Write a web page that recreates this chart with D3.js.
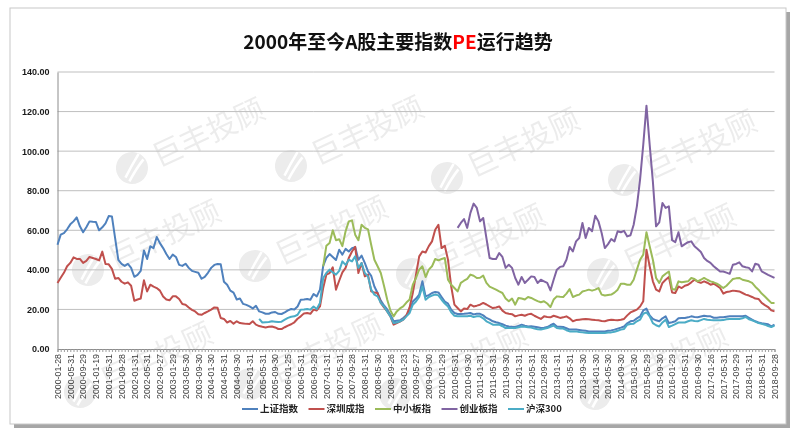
<!DOCTYPE html>
<html>
<head>
<meta charset="utf-8">
<script src="https://cdn.jsdelivr.net/npm/d3@7/dist/d3.min.js"></script>
<style>
  body { margin: 0; background: #fff; }
</style>
</head>
<body>
<div id="chart"></div>
<script>
// tick labels (one every 4 months)
var tickLabels = [
    "2000-01-28", "2000-05-31", "2000-09-29", "2001-01-19", "2001-05-31", "2001-09-28",
    "2002-01-31", "2002-05-31", "2002-09-27", "2003-01-29", "2003-05-30", "2003-09-30",
    "2004-01-30", "2004-05-31", "2004-09-30", "2005-01-31", "2005-05-31", "2005-09-30",
    "2006-01-25", "2006-05-31", "2006-09-29", "2007-01-31", "2007-05-31", "2007-09-28",
    "2008-01-31", "2008-05-30", "2008-09-26", "2009-01-23", "2009-05-27", "2009-09-30",
    "2010-01-29", "2010-05-31", "2010-09-30", "2011-01-31", "2011-05-31", "2011-09-30",
    "2012-01-31", "2012-05-31", "2012-09-28", "2013-01-31", "2013-05-31", "2013-09-30",
    "2014-01-30", "2014-05-30", "2014-09-30", "2015-01-30", "2015-05-29", "2015-09-30",
    "2016-01-29", "2016-05-31", "2016-09-30", "2017-01-26", "2017-05-31", "2017-09-29",
    "2018-01-31", "2018-05-31", "2018-09-28"
];

var seriesNames = ["上证指数", "深圳成指", "中小板指", "创业板指", "沪深300"];
var seriesColors = ["#4F81BD", "#C0504D", "#9BBB59", "#8064A2", "#4BACC6"];
var yTicks = [0, 20, 40, 60, 80, 100, 120, 140];

// monthly PE, 2000-01 .. 2018-09 (one row per year)
var shangzheng = [
    52.7, 57.8, 58.6, 60.5, 63, 64.5, 66.5, 62, 59, 61.5, 64.5, 64.3,
    64.2, 60, 61.5, 63.5, 67.2, 67, 56, 45, 43, 42, 43, 41,
    36.5, 37.5, 39.5, 49.8, 45.5, 51.9, 51, 56.6, 53.5, 51, 48, 45.5,
    47.7, 46.5, 42.5, 42, 43.1, 41, 39.5, 39, 38.5, 35.5, 36.5, 38.5,
    41, 42.5, 43, 42.8, 34, 32.5, 29.5, 28.5, 25, 25.5, 22.8, 22.3,
    21.5, 20.5, 21.8, 19, 18.5, 17.8, 17.8, 18.5, 18.7, 17.8, 17.7, 18.5,
    19.5, 20.2, 20, 21.5, 24.9, 25, 25.3, 24.9, 27.8, 26.6, 30, 42,
    46, 48, 46.5, 45, 50.2, 47.7, 50.6, 49.3, 51, 51.5, 45.1, 47.2,
    43.5, 39.2, 37, 31.6, 28.3, 24.5, 22, 20, 17.3, 14, 14.3, 14.5,
    15.7, 17, 19, 24, 25.5, 27.5, 34.2, 26.6, 27.2, 28.3, 28.8, 28.6,
    26.3, 24, 22.9, 19.9, 18.2, 17.7, 17.7, 17.8, 18, 18.2, 17.5, 17.8,
    17.8, 17, 15.7, 15, 14, 13.5, 13.1, 12.5, 11.8, 11.4, 11.2, 11.1,
    11.7, 12.3, 11.8, 11.4, 11.5, 11.3, 11, 10.6, 10.8, 11.1, 12, 12.8,
    11.4, 11.3, 11.1, 10.5, 9.8, 9.8, 9.8, 9.6, 9.4, 9.2, 8.9, 8.9,
    8.9, 8.9, 8.9, 8.9, 9.2, 9.4, 9.8, 10.3, 10.8, 11.4, 13, 14,
    14.3, 15.5, 16.5, 19.5, 20.4, 17, 15.2, 14.5, 14, 15.5, 16.5, 13.1,
    13.5, 14, 15.5, 15.7, 15.7, 16, 16.5, 16.2, 16, 16.4, 16.8, 16.5,
    16.5, 15.8, 15.8, 16, 16, 16.3, 16.5, 16.5, 16.5, 16.5, 16.5, 16.8,
    15.8, 14.8, 14, 13.4, 13, 12.8, 12.5, 11.4, 12.3
];

var shenzhen = [
    33.4, 36, 38.5, 41.8, 43.5, 46.3, 45.5, 45.5, 43.5, 44.5, 46.5, 46,
    45.5, 44.8, 49.2, 43, 42.8, 40.5, 35.5, 35.9, 34, 33, 33.7, 32,
    24.4, 25, 25.5, 34.7, 29.1, 32.5, 31.5, 30.8, 29.5, 26.5, 25, 24.6,
    26.6, 26.6, 25.3, 22.7, 22.4, 21, 19.8, 19, 17.6, 17.3, 18.2, 19,
    19.9, 21, 20.8, 15.7, 15.2, 13.4, 14.2, 12.8, 14, 13.1, 12.9, 12.7,
    12.6, 14, 12.3, 11.6, 11.2, 10.9, 11.2, 11.4, 10.9, 10.1, 10.1, 11,
    11.8, 12.5, 13.5, 15.3, 16.5, 18, 18.2, 17.8, 19.9, 19.5, 21.5, 30.8,
    37.6, 38.4, 41.3, 30, 34.5, 38.7, 41, 46, 49.3, 51.6, 38.4, 43.5,
    36.7, 37.6, 29.1, 28.5, 28.3, 23.3, 21, 19, 16.5, 12.3, 13.1, 13.8,
    14.8, 17, 21, 28.3, 37.6, 46.8, 49.3, 48.8, 52, 54.4, 60.3, 62.8,
    51, 52.2, 45.1, 31.6, 22.4, 20.7, 19, 20.5, 20.2, 22.4, 21.5, 21.9,
    22.4, 23.3, 22.5, 21.5, 20.7, 21, 21.5, 19.4, 18.2, 17.8, 17.6, 16.5,
    17, 17.3, 16.8, 17.5, 17.8, 16.8, 16, 15.2, 16.5, 16.2, 16, 16.8,
    16.3, 15.7, 16, 16.5, 15.5, 14, 14.6, 14.8, 15, 15.2, 15, 14.8,
    14.6, 14.5, 14.2, 14, 14.5, 14.8, 14.6, 14.5, 14.8, 15.2, 17, 18.5,
    19.2, 19.9, 21.5, 24.1, 50.2, 41.8, 34.2, 30, 29.1, 33.4, 35, 36.4,
    28.6, 28.3, 31.6, 30.8, 32, 32.5, 33.7, 35, 34, 33.4, 34.2, 33.5,
    32.5, 33, 32, 30.8, 28, 28.8, 29.1, 29.5, 29.3, 29.1, 28.3, 27.5,
    27, 26.3, 25.5, 25.3, 23.3, 22.2, 21.2, 19.5, 19
];

var zhongxiao = [
    null, null, null, null, null, null, null, null, null, null, null, null,
    null, null, null, null, null, null, null, null, null, null, null, null,
    null, null, null, null, null, null, null, null, null, null, null, null,
    null, null, null, null, null, null, null, null, null, null, null, null,
    null, null, null, null, null, null, null, null, null, null, null, null,
    null, null, null, null, null, null, null, null, null, null, null, null,
    null, null, null, null, null, null, null, null, null, null, null, 41.8,
    52.2, 53.6, 60, 55, 55.5, 52, 59.5, 64.5, 65, 57.8, 55, 62.8,
    61.2, 60.5, 52.7, 45.1, 41.8, 38.4, 32, 25, 19.5, 16.5, 19, 20.5,
    21.5, 23.5, 25, 32.5, 35.9, 40.1, 41.8, 36.4, 40.1, 41.8, 45.5, 44.8,
    45.5, 46, 35, 32.5, 30.8, 29.1, 33.4, 34.5, 35.4, 37.6, 37, 35.9,
    36, 37.1, 33.4, 31.5, 30.8, 30, 29.1, 28.3, 25.5, 24.1, 25.5, 22.4,
    25.8, 25.5, 25, 26.3, 25.8, 25, 24.2, 23.6, 24.1, 23, 21.2, 25,
    26.6, 26.4, 26.3, 28, 30.3, 26.3, 27, 27.5, 29.1, 29.5, 30, 29.5,
    30, 30.8, 27.5, 27, 27.3, 27.5, 28.5, 30, 33, 33, 32.5, 32.5,
    35, 40.1, 45.1, 47.7, 59, 51.9, 45.1, 35.9, 33.4, 36.7, 38, 39.2,
    30.3, 30, 34.2, 33.7, 34, 34.2, 35.9, 35.4, 34.2, 35, 35.9, 35,
    34.2, 33.7, 33, 32, 30.8, 32, 33.7, 35.4, 35.7, 35.9, 35, 34.6,
    34.2, 33.4, 31.5, 30, 28, 26.5, 24.9, 23.3, 23.3
];

var chuangye = [
    null, null, null, null, null, null, null, null, null, null, null, null,
    null, null, null, null, null, null, null, null, null, null, null, null,
    null, null, null, null, null, null, null, null, null, null, null, null,
    null, null, null, null, null, null, null, null, null, null, null, null,
    null, null, null, null, null, null, null, null, null, null, null, null,
    null, null, null, null, null, null, null, null, null, null, null, null,
    null, null, null, null, null, null, null, null, null, null, null, null,
    null, null, null, null, null, null, null, null, null, null, null, null,
    null, null, null, null, null, null, null, null, null, null, null, null,
    null, null, null, null, null, null, null, null, null, null, null, null,
    null, null, null, null, null, 61.2, 63.7, 65.7, 61.2, 68.8, 73.5, 71.3,
    64.5, 66.2, 56, 46, 45.5, 45.5, 48.5, 46.5, 41, 42.6, 41, 35.9,
    32.5, 36.4, 33.4, 35, 36.7, 36.4, 33.4, 35, 34.2, 33.4, 29.6, 35,
    40.1, 41.5, 41.8, 45.1, 51.6, 49.3, 54.4, 56.1, 63.7, 56.1, 61.2, 59.5,
    67.4, 64.5, 58.6, 51, 53, 55.6, 54.4, 59.5, 59, 59.7, 56.9, 57.5,
    62.8, 72.1, 85.6, 103.3, 123, 103.3, 84.7, 62, 64, 73.8, 71.3, 72.1,
    55, 54, 59, 51.9, 53, 54, 54.4, 51.9, 50.5, 49, 46, 44.5,
    43.5, 41.8, 40.5, 39.2, 39.2, 38.6, 38, 42.6, 43, 43.8, 41.8, 41.3,
    41, 39.2, 43.1, 42.6, 39.2, 38.4, 37.5, 36.7, 35.9
];

var hushen300 = [
    null, null, null, null, null, null, null, null, null, null, null, null,
    null, null, null, null, null, null, null, null, null, null, null, null,
    null, null, null, null, null, null, null, null, null, null, null, null,
    null, null, null, null, null, null, null, null, null, null, null, null,
    null, null, null, null, null, null, null, null, null, null, null, null,
    null, null, null, 15.2, 13.4, 13.5, 13.6, 14, 13.8, 13.6, 13.8, 14.8,
    15.7, 16.3, 16.5, 17.3, 19.9, 20, 20.2, 19.9, 21.5, 20.2, 23.3, 35.9,
    38.4, 40.1, 38.7, 37.6, 39.5, 44.3, 42.5, 45.1, 44.3, 46.8, 41, 43.5,
    38.4, 36.7, 30, 27.5, 26.6, 23.3, 21.5, 19, 16.5, 13.1, 13.4, 14,
    14.8, 16.5, 18.2, 22.4, 24, 26.3, 31.6, 24.9, 26.3, 27, 27.5, 27.1,
    24.9, 23, 21.5, 18.5, 16.8, 16.6, 16.5, 16.5, 16.6, 16.8, 16.2, 16.5,
    16.5, 15.5, 14, 13.2, 12.3, 12.3, 12.3, 11.5, 10.6, 10.6, 10.6, 10.6,
    11, 11.4, 11.2, 11, 10.8, 10.3, 10, 9.8, 10.2, 10.6, 11.2, 11.8,
    10.6, 10.4, 10.3, 9.5, 8.9, 8.9, 8.9, 8.6, 8.4, 8.2, 8.1, 8.1,
    8.1, 8.1, 8.1, 8.1, 8.3, 8.4, 8.7, 9.2, 9.8, 10.1, 12.3, 12.6,
    12.8, 14, 14.8, 17.8, 18.5, 16.5, 13.1, 12, 11.4, 13.4, 14.8, 11.1,
    11.8, 12.6, 13.4, 13.4, 13.4, 14, 14.5, 14.2, 14, 14.6, 15.2, 14.8,
    14.6, 14.5, 14.5, 14.5, 14.6, 15, 15.2, 15.2, 15.2, 15.2, 15.5, 16.2,
    15, 14.5, 13.8, 13.1, 12.7, 12.3, 11.6, 11.1, 11.8
];

var allSeries = [shangzheng, shenzhen, zhongxiao, chuangye, hushen300];

function drawChart() {
    var svgWidth = 800;
    var svgHeight = 436;
    var left = 57.5, right = 774.5, top = 72, bottom = 349;

    var svg = d3.select("#chart").append("svg")
        .attr("width", svgWidth)
        .attr("height", svgHeight)
        .style("display", "block");

    // panel with shadow
    svg.append("rect")
        .attr("x", 14).attr("y", 12)
        .attr("width", 776).attr("height", 416)
        .attr("fill", "#a6a6a6");
    svg.append("rect")
        .attr("x", 10).attr("y", 8)
        .attr("width", 776).attr("height", 416)
        .attr("fill", "#fff")
        .attr("stroke", "#c8c8c8");

    // watermarks
    var marks = [
        [132, 168], [291, 166], [447, 178], [624, 180],
        [88, 270], [255, 266], [412, 274], [603, 274],
        [80, 392], [250, 384], [395, 394], [595, 394]
    ];
    var wm = svg.append("g").attr("fill", "#000").attr("opacity", 0.075);
    marks.forEach(function (m) {
        var g = wm.append("g").attr("transform", "translate(" + m[0] + "," + m[1] + ") rotate(-25)");
        g.append("circle").attr("r", 16);
        g.append("path")
            .attr("d", "M-10,6 Q0,-2 12,-10 M-8,11 Q4,2 14,-3")
            .attr("stroke", "#fff").attr("stroke-width", 2.5).attr("fill", "none");
        g.append("text")
            .attr("x", 24).attr("y", 11)
            .style("font-family", "'Noto Sans CJK SC', sans-serif")
            .style("font-size", "30px")
            .text("巨丰投顾");
    });

    var x = d3.scaleLinear().domain([0, shangzheng.length - 1]).range([left, right]);
    var y = d3.scaleLinear().domain([0, 140]).range([bottom, top]);

    // gridlines
    svg.append("g")
        .selectAll("line")
        .data(yTicks.filter(function (d) { return d > 0; }))
        .enter()
        .append("line")
        .attr("x1", left).attr("x2", right)
        .attr("y1", function (d) { return y(d); })
        .attr("y2", function (d) { return y(d); })
        .attr("stroke", "#bfbfbf")
        .attr("stroke-width", 1);

    // y axis
    var yAxis = svg.append("g")
        .attr("transform", "translate(" + left + ",0)")
        .call(d3.axisLeft(y).tickValues(yTicks).tickFormat(d3.format(".2f")).tickSize(0).tickPadding(8));
    yAxis.select(".domain").attr("stroke", "#8c8c8c");
    yAxis.selectAll("text")
        .style("font-family", "'Liberation Sans', Arial, sans-serif")
        .style("font-size", "9px")
        .style("font-weight", "bold")
        .attr("fill", "#1a1a1a");

    // x axis, a tick every month, a label every 4 months
    var xAxis = svg.append("g")
        .attr("transform", "translate(0," + bottom + ")")
        .call(d3.axisBottom(x)
            .tickValues(d3.range(shangzheng.length))
            .tickSize(3)
            .tickFormat(function (d) { return d % 4 === 0 ? tickLabels[d / 4] : ""; }));
    xAxis.select(".domain").attr("stroke", "#8c8c8c");
    xAxis.selectAll("line").attr("stroke", "#9c9c9c");
    xAxis.selectAll("text")
        .attr("transform", "rotate(-90)")
        .attr("text-anchor", "end")
        .attr("x", -5)
        .attr("y", 0)
        .attr("dy", "0.32em")
        .attr("fill", "#404040")
        .style("font-family", "'Liberation Sans', Arial, sans-serif")
        .style("font-size", "8.8px");

    // series lines
    var line = d3.line()
        .defined(function (d) { return d != null; })
        .x(function (d, i) { return x(i); })
        .y(function (d) { return y(d); });

    allSeries.forEach(function (s, k) {
        svg.append("path")
            .datum(s)
            .attr("fill", "none")
            .attr("stroke", seriesColors[k])
            .attr("stroke-width", 2)
            .attr("stroke-linejoin", "round")
            .attr("d", line);
    });

    // title
    var title = svg.append("text")
        .attr("x", 398).attr("y", 49)
        .attr("text-anchor", "middle")
        .style("font-family", "'Noto Sans CJK SC', sans-serif")
        .style("font-size", "19px")
        .style("font-weight", "bold")
        .attr("fill", "#111");
    title.append("tspan").text("2000年至今A股主要指数");
    title.append("tspan").attr("fill", "#ff0000").text("PE");
    title.append("tspan").text("运行趋势");

    // legend
    var legend = svg.append("g").attr("transform", "translate(242,409)");
    seriesNames.forEach(function (name, k) {
        var g = legend.append("g").attr("transform", "translate(" + (k * 66.5) + ",0)");
        g.append("line")
            .attr("x1", 0).attr("x2", 16)
            .attr("stroke", seriesColors[k])
            .attr("stroke-width", 2);
        g.append("text")
            .attr("x", 18).attr("dy", "0.35em")
            .style("font-family", "'Noto Sans CJK SC', sans-serif")
            .style("font-size", "9.5px")
            .style("font-weight", "bold")
            .attr("fill", "#222")
            .text(name);
    });
}

drawChart();
</script>
</body>
</html>
